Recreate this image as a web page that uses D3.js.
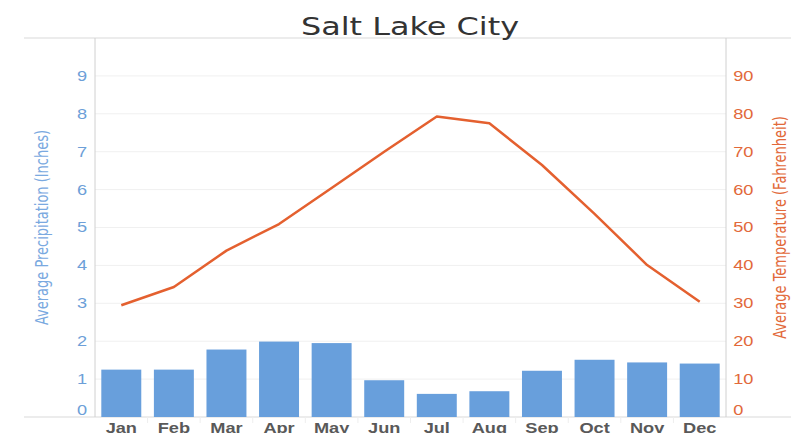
<!DOCTYPE html>
<html>
<head>
<meta charset="utf-8">
<script src="https://cdn.jsdelivr.net/npm/d3@7"></script>
<style>
  body { margin: 0; background: #fff; }
  svg { display: block; font-family: "DejaVu Sans", Verdana, sans-serif; }
</style>
</head>
<body>
<div id="chart"></div>
<script>
// Monthly climate data for Salt Lake City
const months = ["Jan", "Feb", "Mar", "Apr", "May", "Jun", "Jul", "Aug", "Sep", "Oct", "Nov", "Dec"];
const precipitation = [1.25, 1.25, 1.78, 1.99, 1.95, 0.97, 0.61, 0.68, 1.22, 1.51, 1.44, 1.41];
const temperature = [29.5, 34.3, 43.9, 50.9, 60.4, 70.0, 79.3, 77.5, 66.5, 53.6, 40.1, 30.4];
const precipTicks = [0, 1, 2, 3, 4, 5, 6, 7, 8, 9];
const tempTicks = [0, 10, 20, 30, 40, 50, 60, 70, 80, 90];

const W = 791, H = 433;
const margin = { top: 38, right: 65, bottom: 16, left: 95 };
const plotRight = W - margin.right;
const plotBottom = H - margin.bottom;
const stretch = "scale(1.3,1)";

const blue = "#689fdc";
const orange = "#e4602f";

const svg = d3.select("#chart")
    .append("svg")
    .attr("width", W)
    .attr("height", H);

// Scales
const x = d3.scaleBand()
    .domain(months)
    .range([margin.left, plotRight])
    .paddingInner(0.24)
    .paddingOuter(0.12);

const yLeft = d3.scaleLinear()
    .domain([0, 10])
    .range([plotBottom, margin.top]);

const yRight = d3.scaleLinear()
    .domain([0, 100])
    .range([plotBottom, margin.top]);

// Gridlines
svg.append("g")
    .selectAll("line")
    .data(precipTicks.filter(d => d > 0))
    .join("line")
    .attr("x1", margin.left)
    .attr("x2", plotRight)
    .attr("y1", d => yLeft(d))
    .attr("y2", d => yLeft(d))
    .attr("stroke", "#f0f0f0")
    .attr("stroke-width", 1);

// Frame lines
svg.append("line")
    .attr("x1", 24).attr("x2", W)
    .attr("y1", yLeft(10)).attr("y2", yLeft(10))
    .attr("stroke", "#d9d9d9");
svg.append("line")
    .attr("x1", 24).attr("x2", W)
    .attr("y1", plotBottom).attr("y2", plotBottom)
    .attr("stroke", "#d9d9d9");
svg.append("line")
    .attr("x1", margin.left).attr("x2", margin.left)
    .attr("y1", margin.top).attr("y2", plotBottom)
    .attr("stroke", "#d0d0d0");
svg.append("line")
    .attr("x1", plotRight).attr("x2", plotRight)
    .attr("y1", margin.top).attr("y2", plotBottom)
    .attr("stroke", "#d0d0d0");

// Faint category separators under the baseline
svg.append("g")
    .selectAll("line")
    .data(months.slice(1))
    .join("line")
    .attr("x1", d => x(d) - x.step() * x.paddingInner() / 2)
    .attr("x2", d => x(d) - x.step() * x.paddingInner() / 2)
    .attr("y1", plotBottom)
    .attr("y2", plotBottom + 6)
    .attr("stroke", "#eeeeee");

// Bars
svg.append("g")
    .selectAll("rect")
    .data(months)
    .join("rect")
    .attr("x", d => x(d))
    .attr("y", (d, i) => yLeft(precipitation[i]))
    .attr("width", x.bandwidth())
    .attr("height", (d, i) => plotBottom - yLeft(precipitation[i]))
    .attr("fill", blue);

// Temperature line
const line = d3.line()
    .x((d, i) => x(months[i]) + x.bandwidth() / 2)
    .y(d => yRight(d));

svg.append("path")
    .datum(temperature)
    .attr("fill", "none")
    .attr("stroke", orange)
    .attr("stroke-width", 2.5)
    .attr("stroke-linejoin", "round")
    .attr("d", line);

// Left axis
const leftAxis = svg.append("g")
    .attr("transform", `translate(${margin.left},0)`)
    .call(d3.axisLeft(yLeft).tickValues(precipTicks).tickSize(0).tickPadding(6));
leftAxis.select(".domain").remove();
leftAxis.selectAll("text")
    .attr("fill", "#6d9fd8")
    .style("font-size", "14px")
    .attr("transform", stretch)
    .filter(d => d === 0)
    .attr("dy", "-0.18em");

// Right axis
const rightAxis = svg.append("g")
    .attr("transform", `translate(${plotRight},0)`)
    .call(d3.axisRight(yRight).tickValues(tempTicks).tickSize(0).tickPadding(5.5));
rightAxis.select(".domain").remove();
rightAxis.selectAll("text")
    .attr("fill", "#e2693a")
    .style("font-size", "14px")
    .attr("transform", stretch)
    .filter(d => d === 0)
    .attr("dy", "-0.18em");

// Bottom axis
const bottomAxis = svg.append("g")
    .attr("transform", `translate(0,${plotBottom})`)
    .call(d3.axisBottom(x).tickSize(0).tickPadding(6));
bottomAxis.select(".domain").remove();
bottomAxis.selectAll("text")
    .attr("fill", "#595959")
    .style("font-size", "14px")
    .style("font-weight", "bold")
    .attr("transform", stretch);

// Title
svg.append("text")
    .attr("transform", `translate(410,35) scale(1.33,1)`)
    .attr("text-anchor", "middle")
    .attr("fill", "#333333")
    .style("font-size", "24px")
    .text("Salt Lake City");

// Axis titles
svg.append("text")
    .attr("transform", `translate(42.5,${(margin.top + plotBottom) / 2}) rotate(-90) scale(1,1.3)`)
    .attr("text-anchor", "middle")
    .attr("dy", "0.35em")
    .attr("fill", "#7aa9e0")
    .style("font-size", "13px")
    .text("Average Precipitation (Inches)");

svg.append("text")
    .attr("transform", `translate(780,${(margin.top + plotBottom) / 2}) rotate(-90) scale(1,1.3)`)
    .attr("text-anchor", "middle")
    .attr("dy", "0.35em")
    .attr("fill", "#e2693a")
    .style("font-size", "13px")
    .text("Average Temperature (Fahrenheit)");
</script>
</body>
</html>
